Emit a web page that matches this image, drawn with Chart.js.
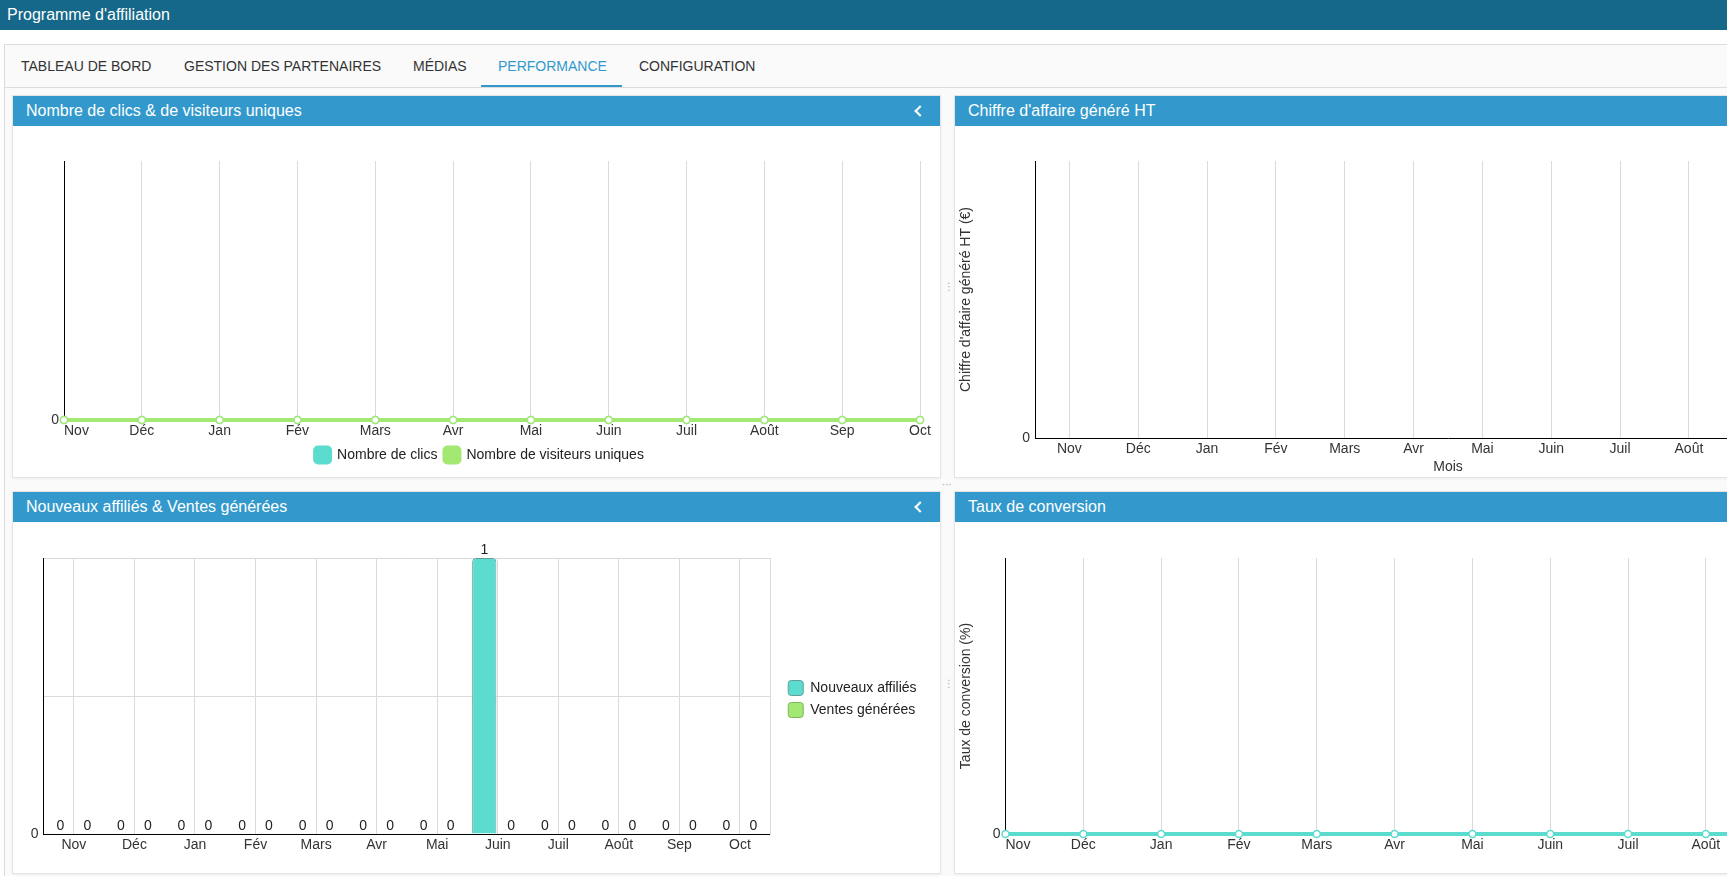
<!DOCTYPE html>
<html>
<head>
<meta charset="utf-8">
<title>Programme d'affiliation</title>
<script src="https://cdn.jsdelivr.net/npm/chart.js@4.4.1/dist/chart.umd.min.js"></script>
<style>
html,body{margin:0;padding:0;width:1727px;height:876px;overflow:hidden;background:#fff;font-family:"Liberation Sans",Arial,sans-serif;}
#topbar{position:absolute;left:0;top:0;width:1727px;height:30px;background:#156889;color:#fff;font-size:16px;line-height:30px;}
#topbar span{position:absolute;left:7px;top:0;}
#container{position:absolute;left:4px;top:44px;width:1800px;height:900px;border:1px solid #dcdcdc;background:#fafafa;}
#tabs{position:absolute;left:0;top:0;width:1800px;height:42px;border-bottom:1px solid #dedede;}
.tab{position:absolute;top:0;height:42px;line-height:42px;font-size:14px;color:#333;white-space:nowrap;}
.tab.active{color:#3399cc;}
#underline{position:absolute;left:476px;top:40px;width:141px;height:2px;background:#3399cc;}
.panel{position:absolute;width:927px;height:381px;background:#fff;box-shadow:0 0 0 1px #e4e4e4,0 1px 3px rgba(0,0,0,0.10);}
.phead{position:absolute;left:0;top:0;width:927px;height:30px;background:#3399cc;color:#fff;font-size:16px;line-height:30px;}
.phead span{position:absolute;left:13px;top:0;white-space:nowrap;}
.chev{position:absolute;left:903px;top:11px;width:6px;height:6px;border-left:2px solid #fff;border-bottom:2px solid #fff;transform:rotate(45deg);}
.pbody{position:absolute;left:0;top:30px;width:927px;height:351px;}
.handle{position:absolute;color:#aaa;font-family:"DejaVu Sans",sans-serif;font-size:10px;line-height:10px;}
</style>
</head>
<body>
<div id="topbar"><span>Programme d'affiliation</span></div>
<div id="container">
  <div id="tabs">
    <div class="tab" style="left:16px">TABLEAU DE BORD</div>
    <div class="tab" style="left:179px">GESTION DES PARTENAIRES</div>
    <div class="tab" style="left:408px">MÉDIAS</div>
    <div class="tab active" style="left:493px">PERFORMANCE</div>
    <div class="tab" style="left:634px">CONFIGURATION</div>
    <div id="underline"></div>
  </div>
</div>

<div class="panel" style="left:13px;top:96px">
  <div class="phead"><span>Nombre de clics &amp; de visiteurs uniques</span><div class="chev"></div></div>
  <div class="pbody"><canvas id="c1"></canvas></div>
</div>
<div class="panel" style="left:955px;top:96px">
  <div class="phead"><span>Chiffre d'affaire généré HT</span></div>
  <div class="pbody"><canvas id="c2"></canvas></div>
</div>
<div class="panel" style="left:13px;top:492px">
  <div class="phead"><span>Nouveaux affiliés &amp; Ventes générées</span><div class="chev"></div></div>
  <div class="pbody"><canvas id="c3"></canvas></div>
</div>
<div class="panel" style="left:955px;top:492px">
  <div class="phead"><span>Taux de conversion</span></div>
  <div class="pbody"><canvas id="c4"></canvas></div>
</div>
<div class="handle" style="left:944px;top:282px">⋮</div>
<div class="handle" style="left:942px;top:480px">···</div>
<div class="handle" style="left:944px;top:679px">⋮</div>

<script>
// ---- Data ----
const months = ['Nov','Déc','Jan','Fév','Mars','Avr','Mai','Juin','Juil','Août','Sep','Oct'];
const nombreClics = [0,0,0,0,0,0,0,0,0,0,0,0];
const visiteursUniques = [0,0,0,0,0,0,0,0,0,0,0,0];
const chiffreAffaireHT = [0,0,0,0,0,0,0,0,0,0,0,0];
const nouveauxAffilies = [0,0,0,0,0,0,0,1,0,0,0,0];
const ventesGenerees = [0,0,0,0,0,0,0,0,0,0,0,0];
const tauxConversion = [0,0,0,0,0,0,0,0,0,0,0,0];
const yTickLabelsShown = [0];

// ---- Styles ----
const TEAL = '#5bdccf';
const GREEN = '#a2e872';
const GRID = '#dadada';
const FONT = '"Liberation Sans", Arial, sans-serif';
Chart.defaults.font.family = FONT;
Chart.defaults.font.size = 14;
Chart.defaults.color = '#333';
Chart.defaults.animation = false;
Chart.defaults.devicePixelRatio = 1;

const firstLabelLeft = {
  id: 'firstLabelLeft',
  beforeDraw(chart) {
    const items = chart.scales.x.getLabelItems();
    if (items.length) items[0].options.textAlign = 'left';
  }
};
const barValueLabels = {
  id: 'barValueLabels',
  afterDatasetsDraw(chart) {
    const ctx = chart.ctx;
    ctx.save();
    ctx.font = '14px ' + FONT;
    ctx.fillStyle = '#222';
    ctx.textAlign = 'center';
    ctx.textBaseline = 'bottom';
    chart.data.datasets.forEach((ds, i) => {
      const meta = chart.getDatasetMeta(i);
      meta.data.forEach((bar, j) => {
        ctx.fillText(String(ds.data[j]), bar.x, bar.y - 1);
      });
    });
    ctx.restore();
  }
};
const legendShift = {
  id: 'legendShift',
  afterLayout(chart) {
    const l = chart.legend;
    if (l) { l.top -= 9; l.bottom -= 9; }
  }
};

const zeroOnly = v => yTickLabelsShown.includes(v) ? String(v) : null;
const zeroOnlyKeepGrid = v => yTickLabelsShown.includes(v) ? String(v) : '';
const hideFirstGrid = ctx => ctx.index === 0 ? 'rgba(0,0,0,0)' : GRID;

function lineDataset(label, data, color, order) {
  return {
    label, data, order,
    borderColor: color, backgroundColor: color,
    borderWidth: 4,
    pointRadius: 3.5, pointBorderWidth: 1.5,
    pointBackgroundColor: '#fff', pointBorderColor: color,
    tension: 0,
    clip: 10
  };
}

// Chart 1
new Chart(document.getElementById('c1'), {
  type: 'line',
  data: {
    labels: months,
    datasets: [
      lineDataset('Nombre de clics', nombreClics, TEAL, 2),
      lineDataset('Nombre de visiteurs uniques', visiteursUniques, GREEN, 1)
    ]
  },
  options: {
    responsive: true, maintainAspectRatio: false,
    layout: { padding: { top: 35, right: 20, left: 26, bottom: 4.5 } },
    plugins: {
      legend: {
        position: 'bottom',
        labels: {
          boxWidth: 15, boxHeight: 15, padding: 7, color: '#222',
          useBorderRadius: true, borderRadius: 3,
          sort: (a, b) => a.datasetIndex - b.datasetIndex
        }
      },
      tooltip: { enabled: false }
    },
    scales: {
      x: {
        offset: false,
        grid: { color: hideFirstGrid, drawTicks: false },
        border: { color: '#000' },
        ticks: { padding: 3, maxRotation: 0, autoSkip: false },
        afterFit(s) { s.height = 20.5; }
      },
      y: {
        min: 0, max: 1,
        grid: { display: false, drawTicks: false },
        border: { color: '#000' },
        ticks: { padding: 5, stepSize: 1, callback: zeroOnly },
        afterFit(s) { s.width = 25; }
      }
    }
  },
  plugins: [firstLabelLeft]
});

// Chart 2
new Chart(document.getElementById('c2'), {
  type: 'bar',
  data: {
    labels: months,
    datasets: [{ label: "Chiffre d'affaire généré HT", data: chiffreAffaireHT, backgroundColor: TEAL, borderWidth: 0 }]
  },
  options: {
    responsive: true, maintainAspectRatio: false,
    layout: { padding: { top: 35, right: 21, left: 0, bottom: 0 } },
    plugins: { legend: { display: false }, tooltip: { enabled: false } },
    scales: {
      x: {
        grid: { offset: false, color: GRID, drawTicks: false },
        border: { color: '#000' },
        ticks: { padding: 3, maxRotation: 0, autoSkip: false },
        title: { display: true, text: 'Mois', color: '#333', font: { size: 14 }, padding: { top: 2, bottom: 1.6 } },
        afterFit(s) { s.height = 39; }
      },
      y: {
        min: 0, max: 1,
        grid: { display: false, drawTicks: false },
        border: { color: '#000' },
        ticks: { padding: 5, stepSize: 1, callback: zeroOnly },
        title: { display: true, text: "Chiffre d'affaire généré HT (€)", color: '#333', font: { size: 14 }, padding: { top: 3, bottom: 3 } },
        afterFit(s) { s.width = 80; }
      }
    }
  }
});

// Chart 3
new Chart(document.getElementById('c3'), {
  type: 'bar',
  data: {
    labels: months,
    datasets: [
      { label: 'Nouveaux affiliés', data: nouveauxAffilies, backgroundColor: TEAL, borderColor: '#5f9f99', borderWidth: 1, borderRadius: 4, borderSkipped: 'bottom', categoryPercentage: 0.89, barPercentage: 0.9 },
      { label: 'Ventes générées', data: ventesGenerees, backgroundColor: GREEN, borderColor: '#7fb65a', borderWidth: 1, borderRadius: 4, borderSkipped: 'bottom', categoryPercentage: 0.89, barPercentage: 0.9 }
    ]
  },
  options: {
    responsive: true, maintainAspectRatio: false,
    layout: { padding: { top: 36, right: 13.4, left: 0, bottom: 15 } },
    plugins: {
      legend: {
        position: 'right',
        labels: { boxWidth: 15, boxHeight: 15, padding: 7, color: '#222', useBorderRadius: true, borderRadius: 3 }
      },
      tooltip: { enabled: false }
    },
    scales: {
      x: {
        grid: { offset: false, color: GRID, drawTicks: false },
        border: { color: '#000' },
        ticks: { padding: 3, maxRotation: 0, autoSkip: false },
        afterFit(s) { s.height = 24; }
      },
      y: {
        min: 0, max: 1,
        grid: { color: c => c.tick.value === 0 ? 'rgba(0,0,0,0)' : GRID, drawTicks: false },
        border: { color: '#000' },
        ticks: { padding: 5, stepSize: 0.5, callback: zeroOnlyKeepGrid },
        afterFit(s) { s.width = 30.6; }
      },
      y2: {
        position: 'right',
        grid: { display: false, drawTicks: false },
        border: { color: GRID },
        ticks: { display: false },
        afterFit(s) { s.width = 11; }
      }
    }
  },
  plugins: [barValueLabels, legendShift]
});

// Chart 4
new Chart(document.getElementById('c4'), {
  type: 'line',
  data: {
    labels: months,
    datasets: [lineDataset('Taux de conversion', tauxConversion, TEAL, 1)]
  },
  options: {
    responsive: true, maintainAspectRatio: false,
    layout: { padding: { top: 36, right: 20.5, left: 0, bottom: 0 } },
    plugins: { legend: { display: false }, tooltip: { enabled: false } },
    scales: {
      x: {
        offset: false,
        grid: { color: hideFirstGrid, drawTicks: false },
        border: { color: '#000' },
        ticks: { padding: 3, maxRotation: 0, autoSkip: false },
        afterFit(s) { s.height = 39; }
      },
      y: {
        min: 0, max: 1,
        grid: { display: false, drawTicks: false },
        border: { color: '#000' },
        ticks: { padding: 5, stepSize: 1, callback: zeroOnly },
        title: { display: true, text: 'Taux de conversion (%)', color: '#333', font: { size: 14 }, padding: { top: 3, bottom: 3 } },
        afterFit(s) { s.width = 50.5; }
      }
    }
  },
  plugins: [firstLabelLeft]
});
</script>
</body>
</html>
